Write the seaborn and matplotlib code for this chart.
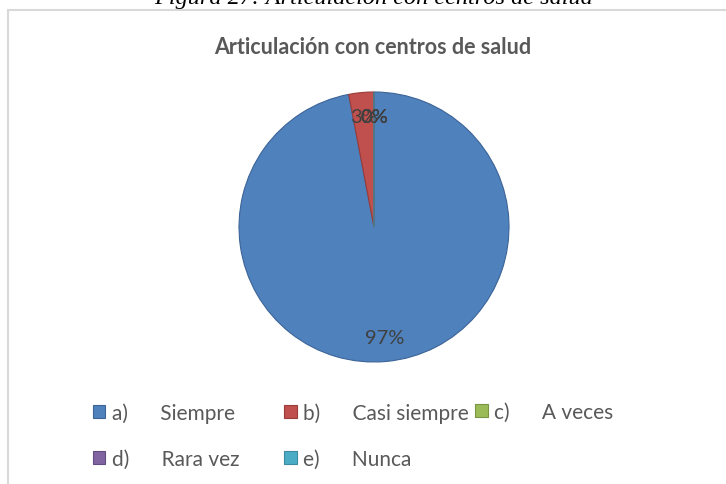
import seaborn as sns
import matplotlib.pyplot as plt
from matplotlib.patches import Patch, Rectangle

# Data
categories = ['a)', 'b)', 'c)', 'd)', 'e)']
answers = ['Siempre', 'Casi siempre', 'A veces', 'Rara vez', 'Nunca']
percentages = [97, 3, 0, 0, 0]

sns.set_theme(style='white')
plt.rcParams['font.family'] = ['Lato', 'DejaVu Sans']

colors = sns.color_palette(['#4F81BD', '#C0504D', '#9BBB59', '#8064A2', '#4BACC6'])
edges = ['#3C6497', '#9A3C3A', '#7A9444', '#634D80', '#3A8AA0']

W, H = 726, 485
fig = plt.figure(figsize=(W / 100, H / 100), dpi=100)

# caption of the document (cut at the top)
fig.text(374 / W, 1 - 4 / H, 'Figura 27: Articulación con centros de salud',
         ha='center', va='baseline', fontsize=17.5, style='italic',
         family=['Liberation Serif'], color='black')

# chart area border
fig.patches.append(Rectangle((8 / W, -0.1), 1.2, 1.1 - 11 / H, transform=fig.transFigure,
                             fill=False, edgecolor='#D9D9D9', linewidth=1.5))

fig.text(373 / W, 1 - 48 / H, 'Articulación con centros de salud', ha='center', va='center',
         fontsize=15.5, fontweight='bold', color='#595959')

cx, cy, r = 374, 228, 135
ax = fig.add_axes([(cx - r) / W, 1 - (cy + r) / H, 2 * r / W, 2 * r / H])
wedges, texts, autotexts = ax.pie(
    percentages, colors=colors, startangle=90, counterclock=False,
    autopct=lambda p: f'{p:.0f}%', pctdistance=0.82,
    wedgeprops=dict(linewidth=0.8),
    textprops=dict(fontsize=14.5, color='#404040'))
for w, e in zip(wedges, edges):
    w.set_edgecolor(e)
ax.set_xlim(-1, 1)
ax.set_ylim(-1, 1)
ax.set_aspect('equal')
ax.axis('off')

# legend in three fixed columns
handles = [Patch(facecolor=c, edgecolor=e, linewidth=0.8) for c, e in zip(colors, edges)]
labels = [f'{c}      {a}' for c, a in zip(categories, answers)]
columns = [[0, 3], [1, 4], [2]]
col_x = [93, 284, 475]
for idx, x in zip(columns, col_x):
    leg = fig.legend([handles[i] for i in idx], [labels[i] for i in idx],
                     loc='upper left', bbox_to_anchor=(x / W, 1 - 403 / H),
                     frameon=False, fontsize=15, labelcolor='#595959',
                     handlelength=0.6, handleheight=0.6, handletextpad=0.3,
                     labelspacing=1.25, borderpad=0, borderaxespad=0)

fig.savefig('out.png', dpi=100)
